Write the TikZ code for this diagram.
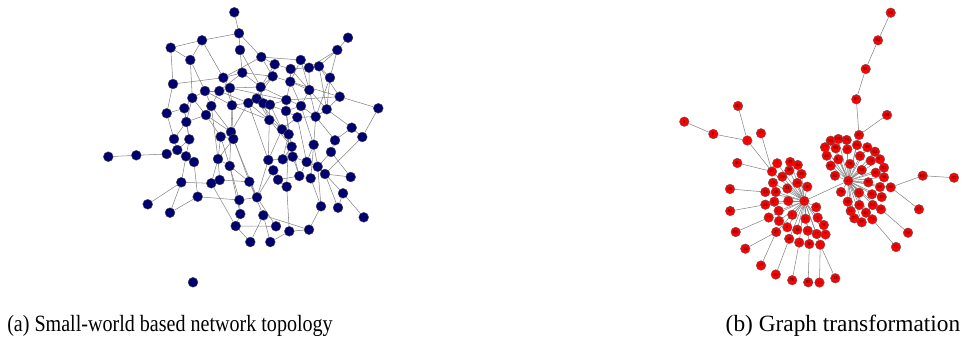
\documentclass[tikz,border=0pt]{standalone}
\usepackage{fontspec}
\setmainfont{Liberation Serif}
\usetikzlibrary{backgrounds}
\definecolor{swnavy}{RGB}{0,0,112}

\begin{document}
\begin{tikzpicture}[
  x=0.75pt, y=-0.75pt,
  swnode/.style={circle, fill=swnavy, draw=black!70, line width=0.3pt,
                 minimum size=7.4pt, inner sep=0pt},
  gtnode/.style={circle, fill=red, draw=black!65, line width=0.3pt,
                 minimum size=7.2pt, inner sep=0pt, font=\fontsize{3.4}{3.4}\selectfont},
  link/.style={draw=black!48, line width=0.4pt},
  captext/.style={font=\fontsize{17.5}{20}\selectfont, anchor=base},
]
\useasboundingbox (0,0) rectangle (970,339);

%% ── (a) SMALL-WORLD TOPOLOGY: NODES ─────────────────────────────────────────
\foreach \n/\x/\y in {
  1/234.3/12.3, 2/239/33.3, 3/202/40.3, 4/170.7/47.7, 5/240/50, 6/348/37.7,
  7/337.3/50, 8/190.3/60, 9/261.3/57, 10/274.7/64.3, 11/300.7/60, 12/290.7/69,
  13/309/67.7, 14/319/66.3, 15/242.3/72.7, 16/223.3/77.7, 17/272.7/76.3,
  18/330/77.7, 19/173/84, 20/290.3/81.7, 21/260.7/87, 22/205/91, 23/219.3/91,
  24/230/88, 25/309.3/90, 26/192.3/98, 27/339.7/96.7, 28/256.7/98.7,
  29/248.3/103, 30/263.3/103.3, 31/270/104.7, 32/286.3/100, 33/211.3/106,
  34/232/105.3, 35/184.3/108.3, 36/301/106, 37/326.7/109.3, 38/378.3/108.3,
  39/166.7/113.3, 40/206/115, 41/286/111, 42/297.3/117.3, 43/315.7/116.7,
  44/186.3/122, 45/269.3/120, 46/351.7/127.7, 47/282/129.3, 48/231/132,
  49/288.7/134.3, 50/220.7/136.7, 51/233.3/139, 52/174/139, 53/189.3/139.3,
  54/362.3/137, 55/335/140.3, 56/313.7/144.7, 57/291.7/146.7, 58/177.3/150,
  59/108.3/156.7, 60/136.3/155.3, 61/166.7/154, 62/186/156.3, 63/194/162,
  64/218/159, 65/229.7/166, 66/268.3/160, 67/282.7/159.3, 68/292.7/156.7,
  69/331/152, 70/306.7/162, 71/317.7/166.7, 72/273.3/170.3, 73/325/174,
  74/299.3/176, 75/310.7/178.3, 76/350.7/177, 77/278/179.7, 78/181.3/182.3,
  79/211.3/183.3, 80/219.7/180, 81/249.3/181.7, 82/286.7/186.7, 83/343/193.3,
  84/197.7/196.7, 85/239.3/200, 86/257/197.3, 87/147.7/204.3, 88/170/212.7,
  89/321/206.3, 90/338/207.7, 91/240.3/214, 92/263.3/215.3, 93/363.7/217.3,
  94/235.7/226, 95/276/226.3, 96/289.3/231.3, 97/309/229.7, 98/250.3/242,
  99/270.3/242, 100/193/282.3}
  \node[swnode] (sw\n) at (\x,\y) {};

%% ── (b) GRAPH TRANSFORMATION: NODES ─────────────────────────────────────────
\foreach \n/\x/\y in {
  0/713.3/134, 1/684.3/121.7, 2/747.3/140.5, 42/738/106, 47/761/133.3,
  90/737.3/163, 3/777.2/163.3, 43/772/171.5, 35/790.2/162, 44/797.8/165,
  20/789.3/170.5, 29/782.3/176.7, 25/801.5/174, 19/773/182.8, 26/797.3/183,
  16/807.3/186.7, 31/787.3/188.5, 36/730/189, 33/765.3/192, 30/775.8/192,
  4/804.3/201, 32/788.3/201, 21/774.3/201.7, 24/765.3/204.7, 94/730.2/211,
  39/816.2/207.2, 22/778.7/210.8, 5/792.3/214.8, 15/768.7/217.5, 6/817.7/217.7,
  37/805.5/218.8, 10/779/221, 9/823.8/225, 86/735.7/232, 27/776.2/232,
  8/787.3/227.2, 18/797.3/229.7, 23/807.7/230.7, 17/816.7/234, 7/825.5/234.5,
  40/789.2/238.8, 14/799.2/242.5, 38/809.3/244, 11/820.2/244.7, 34/745.3/248.7,
  28/761/265.5, 41/775.8/274.5, 76/792.2/280.2, 85/808.2/282.3, 12/819.5/282.5,
  13/835.3/278.3,
  98/830.7/140.7, 100/838.3/139, 73/846.7/140, 87/859/135, 77/825/147.3,
  95/835.7/148.3, 69/847.3/149.3, 84/857/145, 99/867.3/147.3, 52/875/151.7,
  46/826.7/155.7, 81/838.3/159.3, 72/860/156, 79/870.7/160.7, 97/880/159.3,
  67/830.7/165.7, 78/850/164, 83/884/167.7, 82/835/175.7, 58/861.7/170,
  59/875.7/172.7, 48/884/177.3, 45/848.3/180.7, 96/868.3/182.3, 68/880/187,
  50/890.7/187.3, 70/841/192, 53/859/192.7, 64/872/194.3, 49/881.7/197,
  60/847.7/201.7, 66/859.3/205, 54/872.7/205, 55/881/209.3, 51/850.7/211,
  65/866/212.7, 71/854.3/218.3, 57/861.7/222.3, 74/872.3/219.3,
  62/922.7/175.7, 63/954/177.7, 61/919/209.3, 56/908/232.7, 75/896/247,
  88/887/115, 89/856.3/99.3, 91/865.7/69, 92/878/40.3, 93/890.7/12.7}
  \node[gtnode] (gt\n) at (\x,\y) {\n};

%% ── LINKS (behind the nodes) ────────────────────────────────────────────────
\begin{scope}[on background layer]
  \foreach \a/\b in {
    1/2, 2/3, 3/4, 4/8, 3/8, 4/19, 2/5, 2/9, 3/16, 8/22, 5/15, 19/16, 16/15,
    16/24, 9/16, 9/10, 9/11, 10/12, 11/13, 12/13, 6/7, 7/14, 7/13, 7/18, 12/20,
    13/25, 20/25, 11/20, 17/10, 17/21, 21/28, 15/23, 23/24, 22/26, 26/35,
    35/39, 19/39, 39/52, 22/33, 23/33, 24/34, 34/48, 28/29, 28/30, 30/31,
    31/32, 32/41, 41/36, 36/25, 27/32, 27/37, 27/38, 38/54, 46/54, 37/46,
    18/43, 43/56, 42/47, 47/49, 45/49, 41/42, 42/43, 36/43, 29/34, 29/48,
    21/30, 17/20, 20/32, 33/40, 40/44, 44/53, 35/44, 26/40, 40/50, 48/51,
    50/51, 51/64, 50/64, 48/65, 52/58, 53/58, 53/62, 44/52, 58/61, 62/63,
    63/84, 62/78, 45/66, 45/30, 49/57, 47/57, 57/68, 56/70, 56/71, 55/69,
    55/46, 69/71, 24/21, 22/34, 28/45, 31/47, 15/21, 20/36, 25/37, 14/27,
    18/37, 34/51, 33/48, 23/29, 50/65, 65/81, 29/66, 41/49, 49/67, 57/67,
    56/75, 69/76, 14/18, 13/14,
    24/32, 15/17, 22/23, 34/45, 28/47, 21/36, 30/41, 10/21, 17/28, 29/45,
    48/50, 51/86, 48/81, 45/57, 47/66, 49/82, 57/74, 42/70, 43/55, 37/43,
    25/43, 36/56, 41/57, 20/27, 12/25, 14/37, 35/53, 40/48, 33/64, 26/44,
    16/34, 5/21, 9/17, 11/25, 8/26, 31/45,
    59/60, 60/61, 61/58, 78/87, 78/88, 84/88, 84/85, 78/79, 80/81, 85/86,
    85/91, 91/94, 94/98, 98/92, 92/99, 94/95, 99/96, 96/97, 92/97, 97/89,
    89/75, 90/83, 90/73, 93/83, 83/73, 76/73, 54/73, 82/77, 82/96, 86/72,
    72/77, 77/74, 74/75, 66/67, 65/91, 64/80, 79/80, 79/94, 64/79, 64/65,
    81/86, 72/66, 67/68, 68/70, 70/71, 70/74, 71/73, 95/86, 65/85, 81/92,
    66/86, 68/74, 71/89}
    \draw[link] (sw\a) -- (sw\b);

  \foreach \c in {3,43,35,44,20,29,25,19,26,16,31,33,30,21,32,24,39,22,5,15,
                  37,6,10,8,18,23,9,17,7,40,14,38,11,27}
    \draw[link] (gt4) -- (gt\c);
  \foreach \c in {98,100,73,87,77,95,69,84,99,52,46,81,72,79,97,67,78,83,82,
                  58,59,48,96,68,50,70,53,64,49,60,66,54,55,51,65,71,57,74}
    \draw[link] (gt45) -- (gt\c);
  \foreach \a/\b in {
    1/0, 0/2, 42/2, 2/43, 47/43, 90/43, 36/33, 94/24, 86/15, 34/27, 28/27,
    41/40, 76/14, 85/38, 12/11, 13/11, 4/45, 87/89, 89/91, 91/92, 92/93,
    87/88, 50/62, 62/63, 50/61, 55/56, 74/75}
    \draw[link] (gt\a) -- (gt\b);
\end{scope}

%% ── CAPTIONS ────────────────────────────────────────────────────────────────
\node[captext, transform shape, xscale=0.86] (capa) at (170,331)
  {(a) Small-world based network topology};
\node[captext] (capb) at (843,331) {(b) Graph transformation};
\end{tikzpicture}
\end{document}
